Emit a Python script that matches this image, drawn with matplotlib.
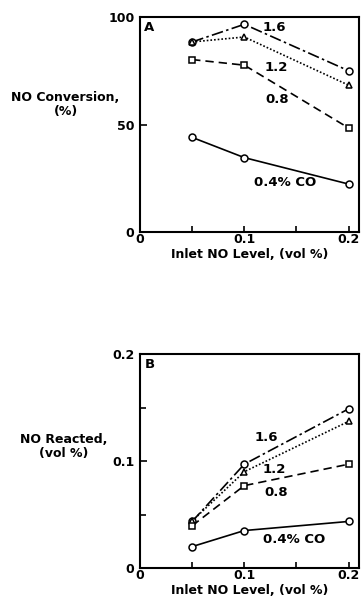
import matplotlib
matplotlib.use("Agg")
import matplotlib.pyplot as plt
from matplotlib.ticker import FixedLocator

plt.rcParams['font.family'] = ['DejaVu Sans']
plt.rcParams['font.weight'] = 'bold'

inlet_no = [0.05, 0.1, 0.2]
co_levels = ["1.6", "1.2", "0.8", "0.4% CO"]

conv_16 = [88.4, 96.6, 75.0]
conv_12 = [88.4, 90.7, 68.3]
conv_08 = [80.2, 77.6, 48.4]
conv_04 = [44.0, 34.6, 22.3]

react_16 = [0.0435, 0.097, 0.1487]
react_12 = [0.044, 0.090, 0.137]
react_08 = [0.0395, 0.077, 0.097]
react_04 = [0.020, 0.035, 0.0435]

styles = [
    dict(marker='o', linestyle=(0, (7, 2, 1.5, 2))),
    dict(marker='^', linestyle=(0, (1, 1.2))),
    dict(marker='s', linestyle=(0, (5, 3))),
    dict(marker='o', linestyle='-'),
]

fig = plt.figure(figsize=(3.63, 6.06), dpi=100)
axA = fig.add_axes([140/363, 1-232/606, 219/363, 215/606])
axB = fig.add_axes([140/363, 1-568/606, 219/363, 214/606])

fs = 9

def setup(ax, ylim, yticks, yminor, ylabel, lx, ly, letter):
    ax.set_xlim(0, 0.21)
    ax.set_ylim(*ylim)
    ax.set_xticks([0, 0.1, 0.2])
    ax.set_xticklabels(['0', '0.1', '0.2'])
    ax.xaxis.set_minor_locator(FixedLocator([0.05, 0.15]))
    ax.set_yticks(yticks[0])
    ax.set_yticklabels(yticks[1])
    ax.yaxis.set_minor_locator(FixedLocator(yminor))
    ax.tick_params(which='both', direction='in', length=4, width=1.2,
                   labelsize=fs)
    ax.tick_params(axis='x', which='major', pad=1)
    ax.tick_params(axis='y', which='major', length=5, pad=4)
    for s in ax.spines.values():
        s.set_linewidth(1.5)
    ax.set_xlabel('Inlet NO Level, (vol %)', fontsize=fs, fontweight='bold', labelpad=1)
    ax.text(lx, ly, ylabel, transform=ax.transAxes, ha='center', va='center',
            fontsize=fs, fontweight='bold', linespacing=1.1)
    ax.text(0.02, 0.98, letter, transform=ax.transAxes, ha='left', va='top',
            fontsize=fs + 0.5, fontweight='bold')

setup(axA, (0, 100), ([0, 50, 100], ['0', '50', '100']), [],
      'NO Conversion,\n(%)', -0.34, 0.595, 'A')
setup(axB, (0, 0.2), ([0, 0.1, 0.2], ['0', '0.1', '0.2']), [0.05, 0.15],
      'NO Reacted,\n(vol %)', -0.35, 0.57, 'B')

for vals, st in zip([conv_16, conv_12, conv_08, conv_04], styles):
    axA.plot(inlet_no, vals, color='black', lw=1.2, markersize=5,
             markerfacecolor='white', markeredgewidth=1.1, **st)
for vals, st in zip([react_16, react_12, react_08, react_04], styles):
    axB.plot(inlet_no, vals, color='black', lw=1.2, markersize=5,
             markerfacecolor='white', markeredgewidth=1.1, **st)

posA = [(0.129, 95.3), (0.131, 76.7), (0.132, 61.4), (0.139, 22.8)]
posB = [(0.1215, 0.1215), (0.129, 0.0916), (0.131, 0.071), (0.148, 0.027)]
for lab, (x, y) in zip(co_levels, posA):
    axA.text(x, y, lab, ha='center', va='center', fontsize=fs + 0.5, fontweight='bold')
for lab, (x, y) in zip(co_levels, posB):
    axB.text(x, y, lab, ha='center', va='center', fontsize=fs + 0.5, fontweight='bold')

fig.savefig('out.png', dpi=100)
